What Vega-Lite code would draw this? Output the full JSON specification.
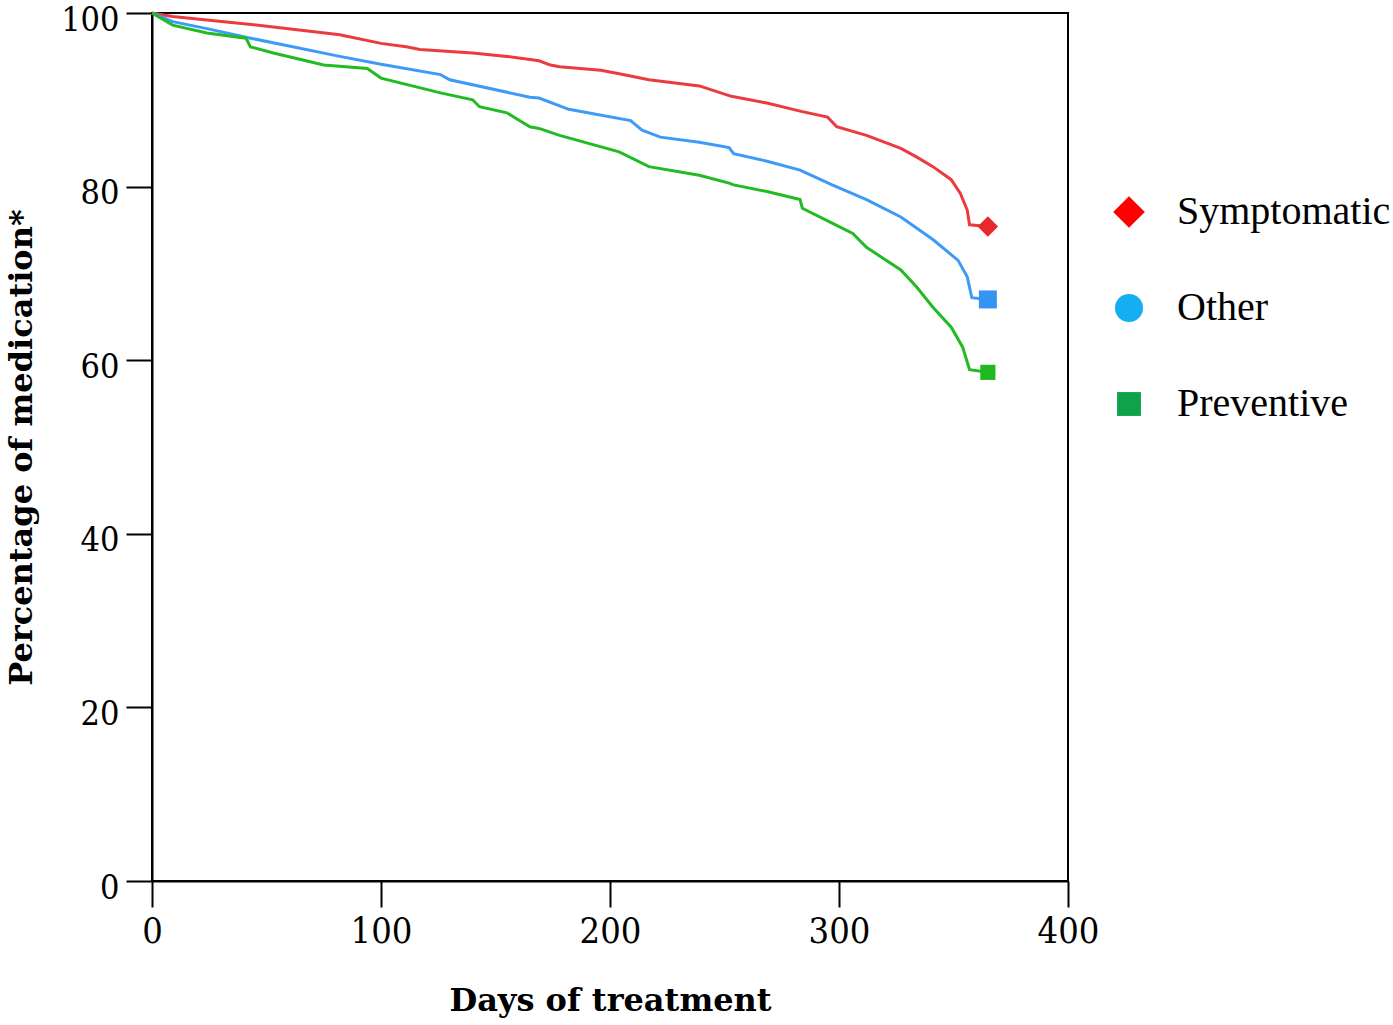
{
  "$schema": "https://vega.github.io/schema/vega-lite/v6.json",
  "width": 916,
  "height": 868,
  "autosize": "none",
  "padding": {"left": 152, "top": 13, "right": 325, "bottom": 144},
  "background": "white",
  "datasets": {
    "curves": [
      {"group": "Symptomatic", "day": 0, "pct": 100},
      {"group": "Symptomatic", "day": 9, "pct": 99.6},
      {"group": "Symptomatic", "day": 24, "pct": 99.2},
      {"group": "Symptomatic", "day": 53, "pct": 98.4},
      {"group": "Symptomatic", "day": 82, "pct": 97.5},
      {"group": "Symptomatic", "day": 100, "pct": 96.5},
      {"group": "Symptomatic", "day": 111, "pct": 96.1},
      {"group": "Symptomatic", "day": 117, "pct": 95.8},
      {"group": "Symptomatic", "day": 140, "pct": 95.4},
      {"group": "Symptomatic", "day": 155, "pct": 95.0},
      {"group": "Symptomatic", "day": 169, "pct": 94.5},
      {"group": "Symptomatic", "day": 174, "pct": 94.0},
      {"group": "Symptomatic", "day": 178, "pct": 93.8},
      {"group": "Symptomatic", "day": 196, "pct": 93.4},
      {"group": "Symptomatic", "day": 204, "pct": 93.0},
      {"group": "Symptomatic", "day": 217, "pct": 92.3},
      {"group": "Symptomatic", "day": 239, "pct": 91.6},
      {"group": "Symptomatic", "day": 253, "pct": 90.4},
      {"group": "Symptomatic", "day": 269, "pct": 89.6},
      {"group": "Symptomatic", "day": 283, "pct": 88.7},
      {"group": "Symptomatic", "day": 295, "pct": 88.0},
      {"group": "Symptomatic", "day": 299, "pct": 86.9},
      {"group": "Symptomatic", "day": 312, "pct": 85.9},
      {"group": "Symptomatic", "day": 327, "pct": 84.4},
      {"group": "Symptomatic", "day": 334, "pct": 83.4},
      {"group": "Symptomatic", "day": 341, "pct": 82.3},
      {"group": "Symptomatic", "day": 349, "pct": 80.8},
      {"group": "Symptomatic", "day": 353, "pct": 79.2},
      {"group": "Symptomatic", "day": 356, "pct": 77.3},
      {"group": "Symptomatic", "day": 357, "pct": 75.6},
      {"group": "Symptomatic", "day": 365, "pct": 75.4},
      {"group": "Other", "day": 0, "pct": 100},
      {"group": "Other", "day": 9, "pct": 99.0},
      {"group": "Other", "day": 24, "pct": 98.2},
      {"group": "Other", "day": 43, "pct": 97.1},
      {"group": "Other", "day": 82, "pct": 95.0},
      {"group": "Other", "day": 100, "pct": 94.1},
      {"group": "Other", "day": 126, "pct": 92.9},
      {"group": "Other", "day": 130, "pct": 92.3},
      {"group": "Other", "day": 165, "pct": 90.3},
      {"group": "Other", "day": 169, "pct": 90.2},
      {"group": "Other", "day": 182, "pct": 88.9},
      {"group": "Other", "day": 209, "pct": 87.6},
      {"group": "Other", "day": 214, "pct": 86.5},
      {"group": "Other", "day": 222, "pct": 85.7},
      {"group": "Other", "day": 239, "pct": 85.1},
      {"group": "Other", "day": 252, "pct": 84.5},
      {"group": "Other", "day": 254, "pct": 83.8},
      {"group": "Other", "day": 269, "pct": 82.9},
      {"group": "Other", "day": 283, "pct": 81.9},
      {"group": "Other", "day": 297, "pct": 80.2},
      {"group": "Other", "day": 312, "pct": 78.5},
      {"group": "Other", "day": 327, "pct": 76.5},
      {"group": "Other", "day": 341, "pct": 73.9},
      {"group": "Other", "day": 352, "pct": 71.5},
      {"group": "Other", "day": 356, "pct": 69.6},
      {"group": "Other", "day": 358, "pct": 67.2},
      {"group": "Other", "day": 365, "pct": 67.0},
      {"group": "Preventive", "day": 0, "pct": 100},
      {"group": "Preventive", "day": 9, "pct": 98.6},
      {"group": "Preventive", "day": 24, "pct": 97.7},
      {"group": "Preventive", "day": 41, "pct": 97.1},
      {"group": "Preventive", "day": 43, "pct": 96.1},
      {"group": "Preventive", "day": 53, "pct": 95.4},
      {"group": "Preventive", "day": 75, "pct": 94.0},
      {"group": "Preventive", "day": 94, "pct": 93.6},
      {"group": "Preventive", "day": 100, "pct": 92.5},
      {"group": "Preventive", "day": 126, "pct": 90.8},
      {"group": "Preventive", "day": 140, "pct": 90.0},
      {"group": "Preventive", "day": 143, "pct": 89.2},
      {"group": "Preventive", "day": 155, "pct": 88.5},
      {"group": "Preventive", "day": 165, "pct": 86.9},
      {"group": "Preventive", "day": 169, "pct": 86.7},
      {"group": "Preventive", "day": 178, "pct": 85.9},
      {"group": "Preventive", "day": 204, "pct": 84.0},
      {"group": "Preventive", "day": 217, "pct": 82.3},
      {"group": "Preventive", "day": 239, "pct": 81.3},
      {"group": "Preventive", "day": 252, "pct": 80.4},
      {"group": "Preventive", "day": 254, "pct": 80.2},
      {"group": "Preventive", "day": 269, "pct": 79.4},
      {"group": "Preventive", "day": 283, "pct": 78.5},
      {"group": "Preventive", "day": 284, "pct": 77.5},
      {"group": "Preventive", "day": 297, "pct": 75.8},
      {"group": "Preventive", "day": 306, "pct": 74.6},
      {"group": "Preventive", "day": 312, "pct": 73.0},
      {"group": "Preventive", "day": 327, "pct": 70.4},
      {"group": "Preventive", "day": 334, "pct": 68.4},
      {"group": "Preventive", "day": 341, "pct": 66.1},
      {"group": "Preventive", "day": 349, "pct": 63.8},
      {"group": "Preventive", "day": 354, "pct": 61.5},
      {"group": "Preventive", "day": 357, "pct": 58.9},
      {"group": "Preventive", "day": 365, "pct": 58.6}
    ],
    "ends": [
      {"group": "Symptomatic", "day": 365, "pct": 75.4},
      {"group": "Other", "day": 365, "pct": 67.0},
      {"group": "Preventive", "day": 365, "pct": 58.6}
    ]
  },
  "layer": [
    {
      "data": {"name": "curves"},
      "mark": {"type": "line", "strokeWidth": 3, "interpolate": "linear"},
      "encoding": {
        "x": {
          "field": "day",
          "type": "quantitative",
          "scale": {"domain": [0, 400], "nice": false},
          "axis": {"values": [0, 100, 200, 300, 400], "title": "Days of treatment", "titlePadding": 36, "labelFlush": false, "labelFontSize": 36}
        },
        "y": {
          "field": "pct",
          "type": "quantitative",
          "scale": {"domain": [0, 100], "nice": false},
          "axis": {"values": [0, 20, 40, 60, 80, 100], "title": "Percentage of medication*", "titlePadding": 22, "labelFlush": false, "labelOffset": 7, "labelFontSize": 34}
        },
        "color": {
          "field": "group",
          "type": "nominal",
          "scale": {"domain": ["Symptomatic", "Other", "Preventive"], "range": ["#ec3b3f", "#3d9bf7", "#23bb23"]},
          "legend": null
        }
      }
    },
    {
      "data": {"name": "ends"},
      "mark": {"type": "point", "filled": true, "opacity": 1},
      "encoding": {
        "x": {"field": "day", "type": "quantitative"},
        "y": {"field": "pct", "type": "quantitative"},
        "color": {
          "field": "group",
          "type": "nominal",
          "scale": {"domain": ["Symptomatic", "Other", "Preventive"], "range": ["#e8282d", "#3394f3", "#1fb81f"]},
          "legend": null
        },
        "shape": {
          "field": "group",
          "type": "nominal",
          "scale": {"domain": ["Symptomatic", "Other", "Preventive"], "range": ["diamond", "square", "square"]},
          "legend": null
        },
        "size": {
          "field": "group",
          "type": "nominal",
          "scale": {"domain": ["Symptomatic", "Other", "Preventive"], "range": [420, 230, 300]},
          "legend": null
        }
      }
    },
    {
      "data": {"name": "ends"},
      "mark": {"type": "point", "filled": true, "opacity": 0},
      "encoding": {
        "x": {"field": "day", "type": "quantitative"},
        "y": {"field": "pct", "type": "quantitative"},
        "color": {
          "field": "group",
          "type": "nominal",
          "scale": {"domain": ["Symptomatic", "Other", "Preventive"], "range": ["#ff0000", "#14aff0", "#0fa24a"]},
          "legend": {
            "title": null,
            "orient": "none",
            "legendX": 957,
            "legendY": 179,
            "rowPadding": 56,
            "labelOffset": 28,
            "labelLimit": 400,
            "labelFont": "Liberation Serif",
            "labelFontSize": 40,
            "labelColor": "black",
            "encode": {"symbols": {"update": {"opacity": {"value": 1}}}}
          }
        },
        "shape": {
          "field": "group",
          "type": "nominal",
          "scale": {"domain": ["Symptomatic", "Other", "Preventive"], "range": ["diamond", "circle", "square"]}
        },
        "size": {
          "field": "group",
          "type": "nominal",
          "scale": {"domain": ["Symptomatic", "Other", "Preventive"], "range": [1000, 570, 850]}
        }
      }
    }
  ],
  "resolve": {"scale": {"color": "independent", "shape": "independent", "size": "independent"}},
  "config": {
    "view": {"stroke": "black", "strokeWidth": 2},
    "axis": {
      "grid": false,
      "domainColor": "black",
      "domainWidth": 2,
      "tickColor": "black",
      "tickWidth": 2,
      "tickSize": 26,
      "labelFont": "DejaVu Serif Condensed",
      "labelColor": "black",
      "labelPadding": 7,
      "titleFont": "DejaVu Serif",
      "titleFontSize": 32,
      "titleFontWeight": "bold",
      "titleColor": "black"
    }
  }
}
